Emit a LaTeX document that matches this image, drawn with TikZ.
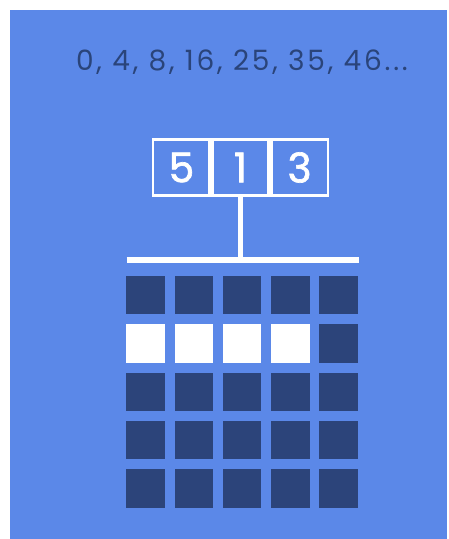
\documentclass[tikz,border=0pt]{standalone}
\usepackage{fontspec}
\setmainfont{Poppins}
\newfontfamily\seqfont[LetterSpace=10]{Poppins}
\newfontfamily\digfont[FakeBold=1.6]{Poppins}
\usetikzlibrary{positioning}
\definecolor{bgblue}{RGB}{91,136,232}
\definecolor{cellnavy}{RGB}{44,68,122}
\definecolor{textnavy}{RGB}{42,68,122}

\begin{document}
\begin{tikzpicture}[x=1pt,y=-1pt,
  digit/.style={draw=white,line width=2.6pt,minimum width=56.5pt,minimum height=56.5pt,
    inner sep=0pt,text=white,font=\digfont\fontsize{41}{41}\selectfont},
  cell/.style={minimum size=38.5pt,inner sep=0pt}]
  % background
  \fill[white] (0,0) rectangle (449,539);
  \fill[bgblue] (10,10) rectangle (447,539);

  % sequence
  \node[anchor=base,text=textnavy,font=\seqfont\fontsize{28}{28}\selectfont] (seq) at (242,70)
    {0, 4, 8, 16, 25, 35, 46...};

  % digit boxes
  \node[digit] (dB) at (240.5,167.5) {1};
  \node[digit,left=0pt of dB] (dA) {5};
  \node[digit,right=0pt of dB] (dC) {3};

  % stem and bar
  \coordinate (barL) at (126.5,260);
  \coordinate (barR) at (358.5,260);
  \draw[white,line width=5pt] (dB.south) -- (dB.south |- barL);
  \draw[white,line width=6pt] (barL) -- (barR);

  % cells (row 2 lit up to column 4)
  \foreach \r/\lit in {1/0,2/4,3/0,4/0,5/0}
    \foreach \c in {1,...,5} {
      \ifnum\c>\lit \def\shade{cellnavy}\else\def\shade{white}\fi
      \node[cell,fill=\shade] (c\r\c) at ({145.5+48.25*(\c-1)},{295.2+48.3*(\r-1)}) {};
    }
\end{tikzpicture}
\end{document}
